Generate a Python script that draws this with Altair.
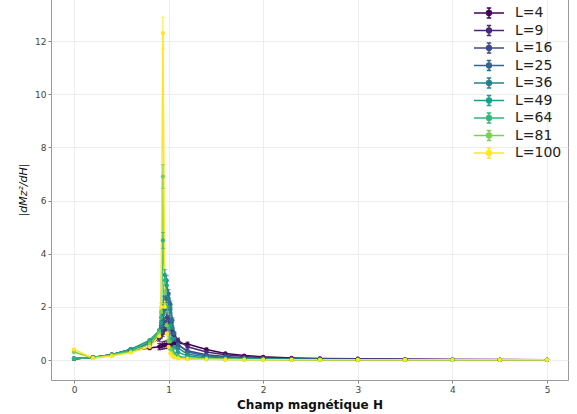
import altair as alt
import pandas as pd

H = [0, 0.2, 0.4, 0.6, 0.8, 0.9, 0.92, 0.94, 0.96, 0.98, 1.0, 1.02, 1.04, 1.06,
     1.1, 1.2, 1.4, 1.6, 1.8, 2.0, 2.3, 2.6, 3.0, 3.5, 4.0, 4.5, 5.0]

L_sizes = [4, 9, 16, 25, 36, 49, 64, 81, 100]

V4 = [0.05, 0.1, 0.2, 0.35, 0.45, 0.5, 0.52, 0.55, 0.57, 0.58, 0.6, 0.6, 0.62, 0.62,
      0.63, 0.6, 0.4, 0.25, 0.17, 0.12, 0.08, 0.06, 0.05, 0.03, 0.02, 0.02, 0.01]
V9 = [0.05, 0.1, 0.2, 0.4, 0.6, 0.8, 0.9, 1.0, 1.1, 1.2, 1.3, 1.25, 1.1, 0.95,
      0.75, 0.5, 0.3, 0.2, 0.13, 0.09, 0.06, 0.05, 0.04, 0.03, 0.02, 0.01, 0.01]
V16 = [0.05, 0.1, 0.2, 0.4, 0.65, 0.9, 1.05, 1.25, 1.45, 1.6, 1.55, 1.3, 1.0, 0.8,
       0.55, 0.35, 0.2, 0.13, 0.09, 0.06, 0.04, 0.03, 0.02, 0.02, 0.01, 0.01, 0.01]
V25 = [0.05, 0.1, 0.2, 0.4, 0.7, 1.0, 1.2, 1.5, 1.9, 2.3, 2.5, 2.1, 1.5, 1.0,
       0.6, 0.3, 0.15, 0.1, 0.07, 0.05, 0.03, 0.02, 0.02, 0.01, 0.01, 0.01, 0.01]
V36 = [0.05, 0.1, 0.2, 0.4, 0.7, 1.05, 1.3, 1.7, 2.4, 3.0, 2.3, 1.9, 1.2, 0.8,
       0.45, 0.22, 0.12, 0.08, 0.05, 0.04, 0.03, 0.02, 0.01, 0.01, 0.01, 0.01, 0.01]
V49 = [0.05, 0.1, 0.2, 0.4, 0.75, 1.1, 1.4, 2.0, 3.2, 2.8, 2.0, 1.3, 0.8, 0.5,
       0.3, 0.15, 0.08, 0.05, 0.04, 0.03, 0.02, 0.01, 0.01, 0.01, 0.01, 0.01, 0.01]
V64 = [0.05, 0.1, 0.2, 0.35, 0.7, 1.1, 1.6, 4.5, 3.0, 2.0, 1.2, 0.7, 0.4, 0.25,
       0.15, 0.08, 0.05, 0.03, 0.02, 0.02, 0.01, 0.01, 0.01, 0.01, 0.01, 0.01, 0.01]
V81 = [0.3, 0.08, 0.18, 0.3, 0.6, 1.0, 1.8, 6.9, 2.5, 1.3, 0.7, 0.4, 0.25, 0.15,
       0.1, 0.05, 0.03, 0.02, 0.02, 0.01, 0.01, 0.01, 0.01, 0.01, 0.01, 0.01, 0.01]
V100 = [0.4, 0.07, 0.15, 0.28, 0.5, 0.9, 2.0, 12.3, 2.0, 1.0, 0.5, 0.25, 0.15, 0.1,
        0.06, 0.04, 0.03, 0.02, 0.01, 0.01, 0.01, 0.01, 0.01, 0.01, 0.01, 0.01, 0.01]

E4 = [0.01, 0.01, 0.02, 0.03, 0.06, 0.12, 0.12, 0.14, 0.14, 0.15, 0.15, 0.15, 0.14, 0.13,
      0.12, 0.08, 0.05, 0.03, 0.02, 0.02, 0.01, 0.01, 0.01, 0.01, 0.01, 0.01, 0.01]
E9 = [0.01, 0.01, 0.02, 0.03, 0.05, 0.1, 0.1, 0.12, 0.12, 0.13, 0.14, 0.13, 0.12, 0.1,
      0.08, 0.05, 0.03, 0.02, 0.02, 0.01, 0.01, 0.01, 0.01, 0.01, 0.01, 0.01, 0.01]
E16 = [0.01, 0.01, 0.02, 0.03, 0.05, 0.08, 0.09, 0.1, 0.12, 0.13, 0.12, 0.11, 0.09, 0.07,
       0.05, 0.03, 0.02, 0.01, 0.01, 0.01, 0.01, 0.01, 0.01, 0.01, 0.01, 0.01, 0.01]
E25 = [0.01, 0.01, 0.01, 0.02, 0.04, 0.06, 0.08, 0.1, 0.12, 0.14, 0.15, 0.12, 0.09, 0.06,
       0.04, 0.02, 0.01, 0.01, 0.01, 0.01, 0.01, 0.01, 0.01, 0.01, 0.01, 0.01, 0.01]
E36 = [0.01, 0.01, 0.01, 0.02, 0.04, 0.06, 0.08, 0.1, 0.14, 0.18, 0.14, 0.11, 0.07, 0.05,
       0.03, 0.02, 0.01, 0.01, 0.01, 0.01, 0.01, 0.01, 0.01, 0.01, 0.01, 0.01, 0.01]
E49 = [0.01, 0.01, 0.01, 0.02, 0.04, 0.06, 0.08, 0.12, 0.2, 0.17, 0.12, 0.08, 0.05, 0.03,
       0.02, 0.01, 0.01, 0.01, 0.01, 0.01, 0.01, 0.01, 0.01, 0.01, 0.01, 0.01, 0.01]
E64 = [0.01, 0.01, 0.01, 0.02, 0.04, 0.06, 0.1, 0.3, 0.18, 0.12, 0.07, 0.04, 0.02, 0.02,
       0.01, 0.01, 0.01, 0.01, 0.01, 0.01, 0.01, 0.01, 0.01, 0.01, 0.01, 0.01, 0.01]
E81 = [0.02, 0.01, 0.01, 0.02, 0.03, 0.06, 0.1, 0.45, 0.15, 0.08, 0.04, 0.02, 0.02, 0.01,
       0.01, 0.01, 0.01, 0.01, 0.01, 0.01, 0.01, 0.01, 0.01, 0.01, 0.01, 0.01, 0.01]
E100 = [0.03, 0.01, 0.01, 0.02, 0.03, 0.05, 0.12, 0.6, 0.12, 0.06, 0.03, 0.02, 0.01, 0.01,
        0.01, 0.01, 0.01, 0.01, 0.01, 0.01, 0.01, 0.01, 0.01, 0.01, 0.01, 0.01, 0.01]

VALUES = [V4, V9, V16, V25, V36, V49, V64, V81, V100]
ERRORS = [E4, E9, E16, E25, E36, E49, E64, E81, E100]
LABELS = [f"L={L}" for L in L_sizes]
COLORS = ["#440154", "#482878", "#3e4989", "#31688e", "#26828e",
          "#1f9e89", "#35b779", "#7ad151", "#fde725"]

X_TICKS = [0, 1, 2, 3, 4, 5]
Y_TICKS = [0, 2, 4, 6, 8, 10, 12]

rows = []
for lab, vals, errs in zip(LABELS, VALUES, ERRORS):
    for h, v, e in zip(H, vals, errs):
        rows.append({"H": h, "val": v, "lo": v - e, "hi": v + e, "serie": lab})
df = pd.DataFrame(rows)

FONT = "DejaVu Sans"

xscale = alt.Scale(domain=[-0.243, 5.222], nice=False, zero=False)
yscale = alt.Scale(domain=[-0.75, 13.58], nice=False, zero=False)

x = alt.X("H:Q", scale=xscale,
          axis=alt.Axis(values=X_TICKS, format="d", title="Champ magnétique H",
                        titleFontWeight="bold", titleFontSize=12, titlePadding=5,
                        labelPadding=2))
y = alt.Y("val:Q", scale=yscale,
          axis=alt.Axis(values=Y_TICKS, format="d", title="|dMz²/dH|",
                        titleFontStyle="italic", titleFontWeight="normal",
                        titleFontSize=11, titlePadding=6, labelPadding=2))

legend_path = ("M-1.875,0L1.875,0M0,-0.625L0,0.625M-0.28,-0.625L0.28,-0.625"
               "M-0.28,0.625L0.28,0.625"
               "M0.3,0A0.3,0.3,0,1,1,-0.3,0A0.3,0.3,0,1,1,0.3,0Z")

color = alt.Color(
    "serie:N",
    scale=alt.Scale(domain=LABELS, range=COLORS),
    sort=LABELS,
    legend=alt.Legend(
        title=None, orient="none", legendX=429, legendY=5,
        symbolType=legend_path, symbolSize=256, symbolStrokeWidth=1.5,
        symbolOpacity=1,
        labelFontSize=14, labelFont=FONT, labelColor="#222222",
        labelOffset=17, rowPadding=0.5, padding=0,
    ),
)

base = alt.Chart(df)

lines = base.mark_line(strokeWidth=1.5).encode(x=x, y=y, color=color)
bars = base.mark_rule(strokeWidth=1).encode(
    x="H:Q", y=alt.Y("lo:Q", scale=yscale), y2="hi:Q", color=color)
cap_lo = base.mark_tick(orient="horizontal", size=4, thickness=1).encode(
    x="H:Q", y=alt.Y("lo:Q", scale=yscale), color=color)
cap_hi = base.mark_tick(orient="horizontal", size=4, thickness=1).encode(
    x="H:Q", y=alt.Y("hi:Q", scale=yscale), color=color)
points = base.mark_point(size=18, opacity=1, filled=True, strokeWidth=1.5).encode(
    x=x, y=y, color=color, stroke=alt.Stroke("serie:N", scale=None, legend=None))

chart = alt.layer(lines, bars, cap_lo, cap_hi, points).properties(
    width=517, height=381,
    autosize=alt.AutoSizeParams(type="none"),
    padding={"left": 51, "top": -1, "right": 9, "bottom": 34},
    background="white",
).configure_view(
    stroke="#999999", strokeWidth=1
).configure_axis(
    domain=False,
    grid=True, gridColor="#e9e9e9", gridWidth=0.8,
    tickColor="#888888", tickSize=3, tickWidth=1,
    labelFont=FONT, labelFontSize=9, labelColor="#444444",
    titleFont=FONT, titleColor="#111111",
)

chart.save("out.html", embed_options={"renderer": "svg", "actions": False})
